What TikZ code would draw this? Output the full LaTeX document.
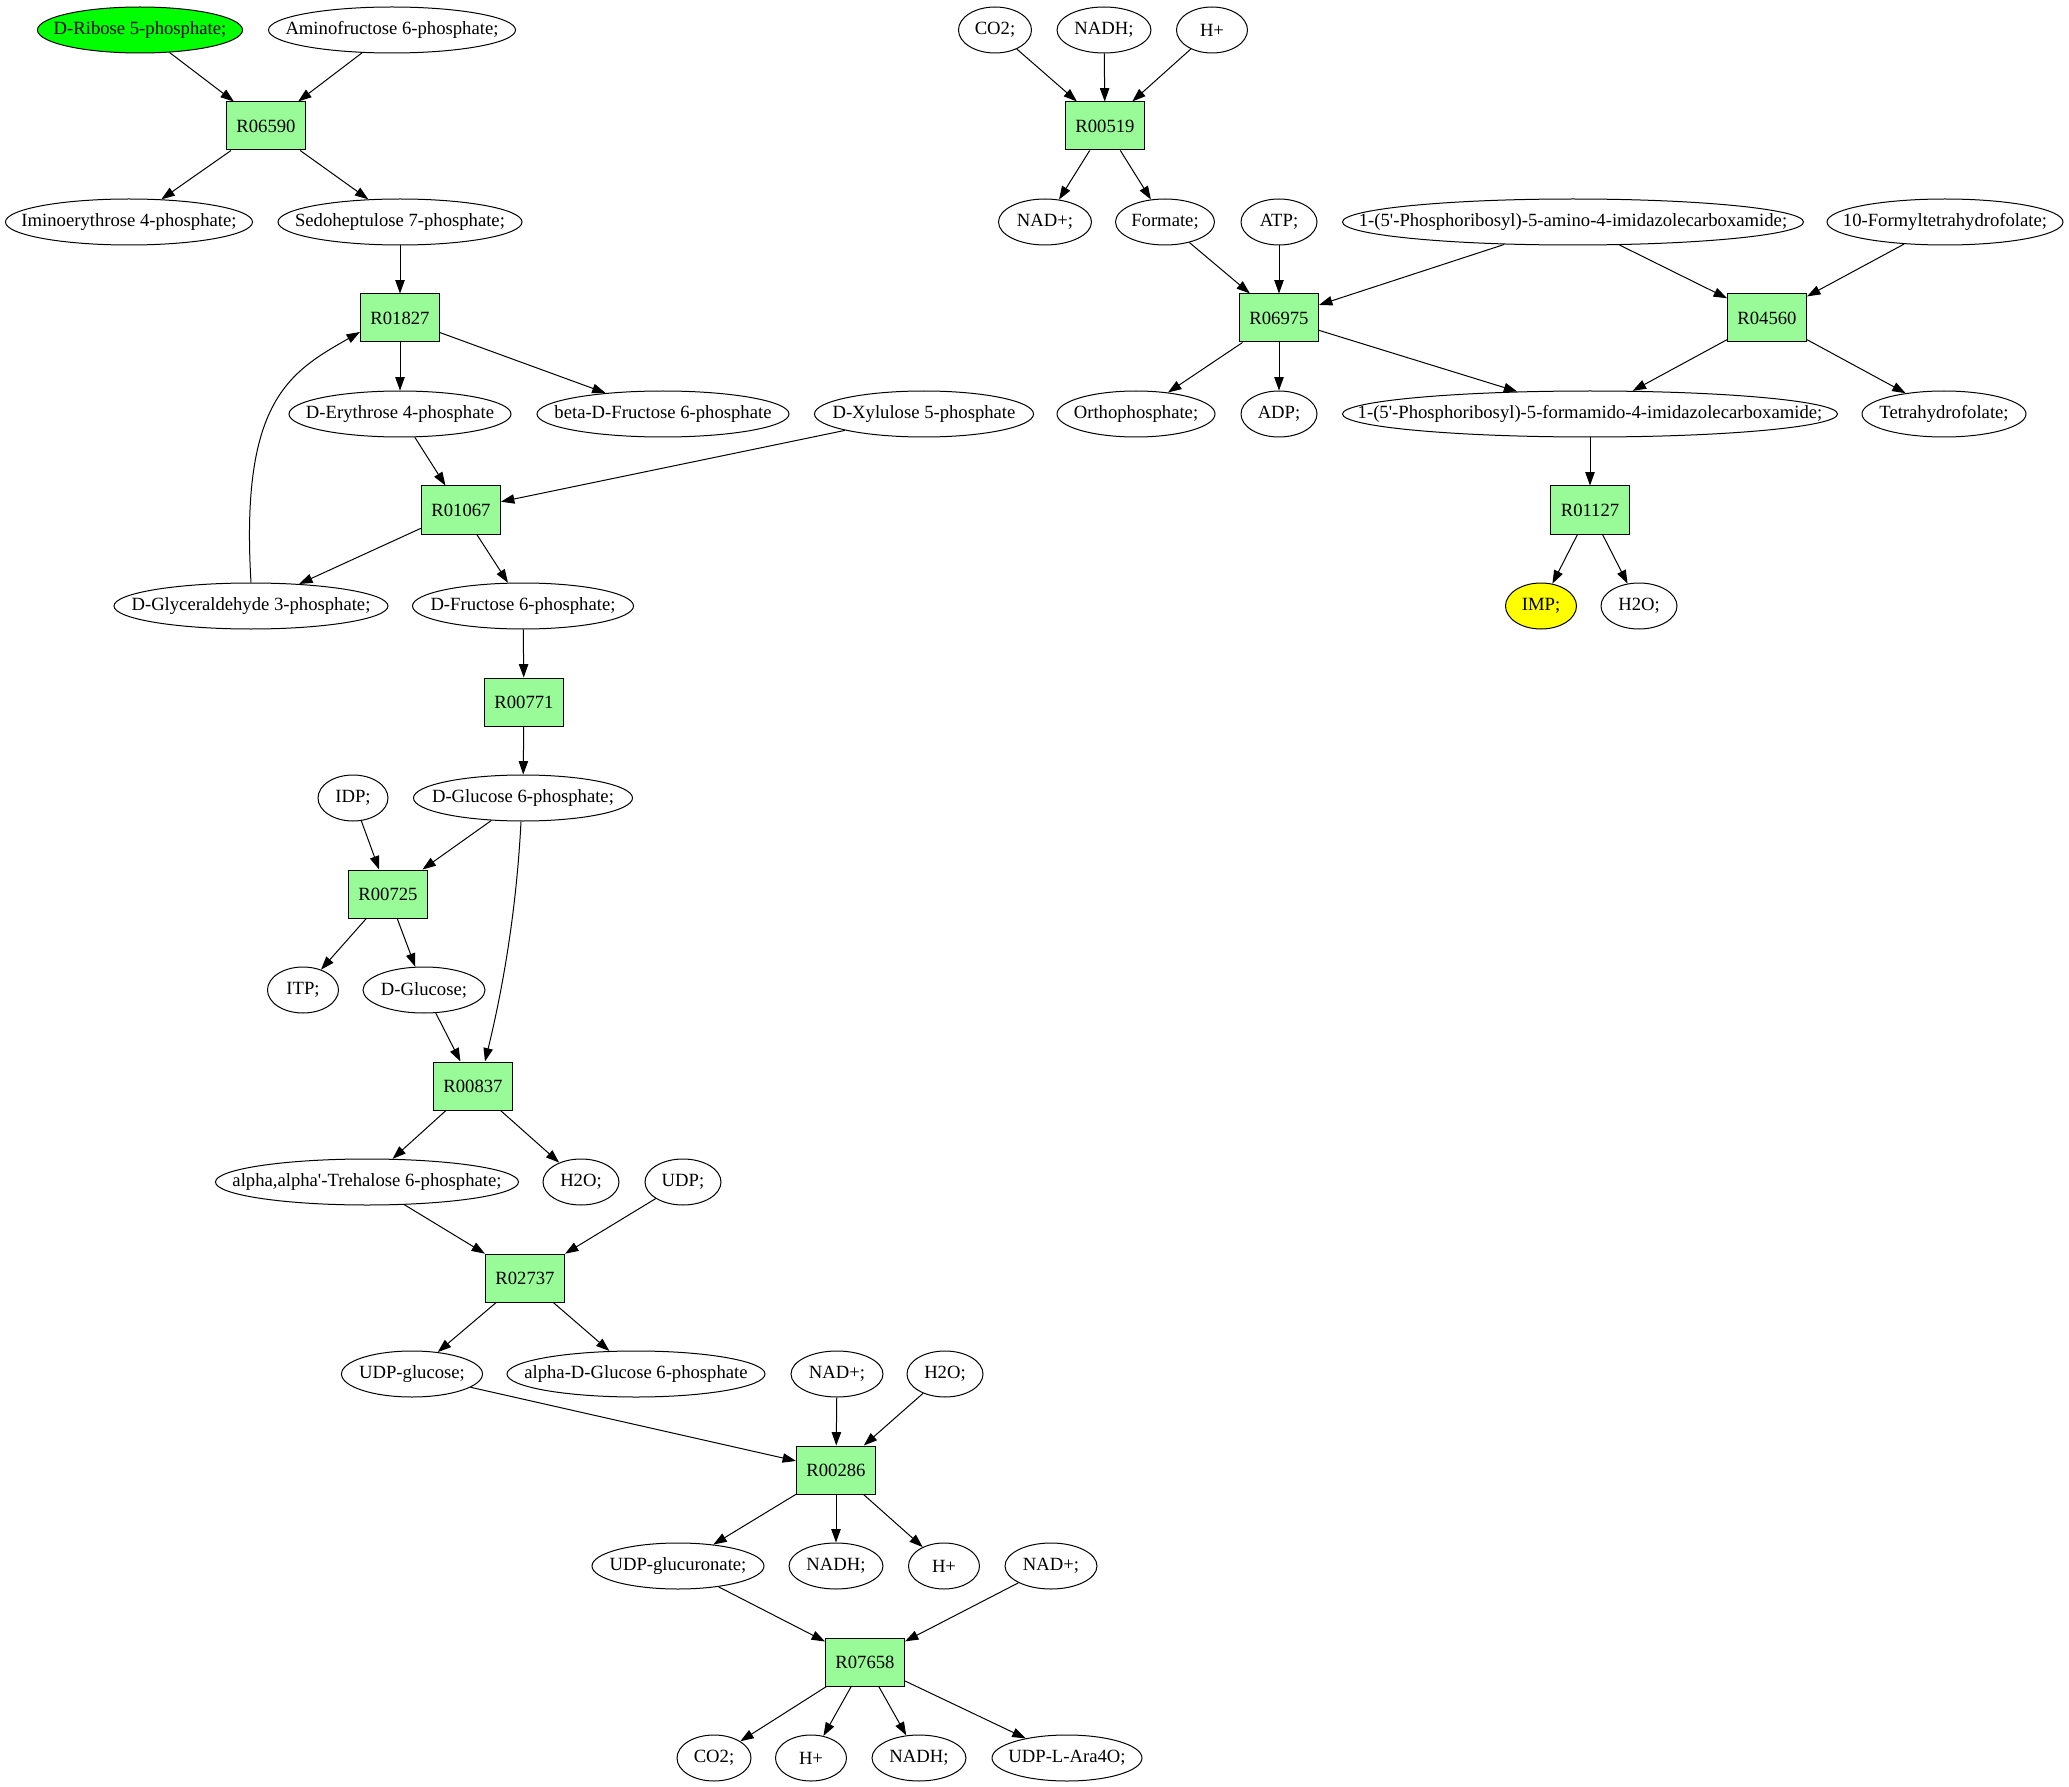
\documentclass[tikz,border=0pt]{standalone}
\usepackage{fontspec}
\setmainfont{Liberation Serif}
\usetikzlibrary{shapes.geometric,arrows.meta}
\definecolor{rxngreen}{HTML}{98FB98}
\definecolor{startgreen}{HTML}{00FF00}
\definecolor{endyellow}{HTML}{FFFF00}
\newcommand\mlab[1]{\makebox[0pt][c]{#1}}
\begin{document}
\begin{tikzpicture}[x=0.5pt,y=-0.5pt,
  met/.style={ellipse, draw, line width=0.5pt, inner sep=0pt, minimum height=23pt, minimum width=#1*0.5pt},
  rxn/.style={rectangle, draw, line width=0.5pt, fill=rxngreen, inner sep=0pt, minimum width=39.5pt, minimum height=24pt},
  edge/.style={line width=0.5pt, -{Triangle[length=6.7pt,width=4.7pt]}},
  every node/.style={font=\fontsize{9.33pt}{11pt}\selectfont}]
\useasboundingbox (0,0) rectangle (2069,1787);
% row 0
\node[met=205, fill=startgreen] (ribose) at (140,30) {\mlab{D-Ribose 5-phosphate;}};
\node[met=247] (aminofru) at (392,30) {\mlab{Aminofructose 6-phosphate;}};
\node[met=73] (co2a) at (995,30) {\mlab{CO2;}};
\node[met=94] (nadha) at (1104,30) {\mlab{NADH;}};
\node[met=71] (hpa) at (1212,30) {\mlab{H+}};
% row 1
\node[rxn] (r06590) at (266,126) {R06590};
\node[rxn] (r00519) at (1105,126) {R00519};
% row 2
\node[met=247] (imino) at (129,222) {\mlab{Iminoerythrose 4-phosphate;}};
\node[met=244] (sedo) at (400,222) {\mlab{Sedoheptulose 7-phosphate;}};
\node[met=93] (nadpa) at (1045,222) {\mlab{NAD+;}};
\node[met=99] (formate) at (1165,222) {\mlab{Formate;}};
\node[met=76] (atp) at (1279,222) {\mlab{ATP;}};
\node[met=461] (aica) at (1573,222) {\mlab{1-(5\textquotesingle-Phosphoribosyl)-5-amino-4-imidazolecarboxamide;}};
\node[met=236] (fthf) at (1945,222) {\mlab{10-Formyltetrahydrofolate;}};
% row 3
\node[rxn] (r01827) at (400,318) {R01827};
\node[rxn] (r06975) at (1279,318) {R06975};
\node[rxn] (r04560) at (1767,318) {R04560};
% row 4
\node[met=222] (ery) at (400,414) {\mlab{D-Erythrose 4-phosphate}};
\node[met=252] (bfru) at (663,414) {\mlab{beta-D-Fructose 6-phosphate}};
\node[met=219] (xyl) at (924,414) {\mlab{D-Xylulose 5-phosphate}};
\node[met=158] (ortho) at (1136,414) {\mlab{Orthophosphate;}};
\node[met=76] (adp) at (1279,414) {\mlab{ADP;}};
\node[met=495] (faica) at (1590,414) {\mlab{1-(5\textquotesingle-Phosphoribosyl)-5-formamido-4-imidazolecarboxamide;}};
\node[met=164] (thf) at (1944,414) {\mlab{Tetrahydrofolate;}};
% row 5
\node[rxn] (r01067) at (461,510) {R01067};
\node[rxn] (r01127) at (1590,510) {R01127};
% row 6
\node[met=274] (gly) at (251,606) {\mlab{D-Glyceraldehyde 3-phosphate;}};
\node[met=221] (f6p) at (523,606) {\mlab{D-Fructose 6-phosphate;}};
\node[met=71, fill=endyellow] (imp) at (1541,606) {\mlab{IMP;}};
\node[met=76] (h2oa) at (1639,606) {\mlab{H2O;}};
% row 7
\node[rxn] (r00771) at (524,702) {R00771};
% row 8
\node[met=70] (idp) at (353,798) {\mlab{IDP;}};
\node[met=219] (g6p) at (523,798) {\mlab{D-Glucose 6-phosphate;}};
% row 9
\node[rxn] (r00725) at (388,894) {R00725};
% row 10
\node[met=71] (itp) at (303,990) {\mlab{ITP;}};
\node[met=122] (glc) at (424,990) {\mlab{D-Glucose;}};
% row 11
\node[rxn] (r00837) at (473,1086) {R00837};
% row 12
\node[met=303] (tre) at (367,1182) {\mlab{alpha,alpha\textquotesingle-Trehalose 6-phosphate;}};
\node[met=76] (h2ob) at (581,1182) {\mlab{H2O;}};
\node[met=76] (udp) at (683,1182) {\mlab{UDP;}};
% row 13
\node[rxn] (r02737) at (525,1278) {R02737};
% row 14
\node[met=141] (udpg) at (412,1374) {\mlab{UDP-glucose;}};
\node[met=258] (ag6p) at (636,1374) {\mlab{alpha-D-Glucose 6-phosphate}};
\node[met=92] (nadpb) at (837,1374) {\mlab{NAD+;}};
\node[met=76] (h2oc) at (945,1374) {\mlab{H2O;}};
% row 15
\node[rxn] (r00286) at (836,1470) {R00286};
% row 16
\node[met=172] (udpgA) at (678,1566) {\mlab{UDP-glucuronate;}};
\node[met=94] (nadhb) at (836,1566) {\mlab{NADH;}};
\node[met=71] (hpb) at (944,1566) {\mlab{H+}};
\node[met=92] (nadpc) at (1051,1566) {\mlab{NAD+;}};
% row 17
\node[rxn] (r07658) at (865,1662) {R07658};
% row 18
\node[met=74] (co2b) at (714,1758) {\mlab{CO2;}};
\node[met=71] (hpc) at (811,1758) {\mlab{H+}};
\node[met=94] (nadhc) at (919,1758) {\mlab{NADH;}};
\node[met=150] (ara) at (1067,1758) {\mlab{UDP-L-Ara4O;}};
% edges left
\draw[edge] (ribose) -- (r06590);
\draw[edge] (aminofru) -- (r06590);
\draw[edge] (r06590) -- (imino);
\draw[edge] (r06590) -- (sedo);
\draw[edge] (sedo) -- (r01827);
\draw[edge] (r01827) -- (ery);
\draw[edge] (r01827) -- (bfru);
\draw[edge] (gly.north) .. controls (240,400) and (290,372) .. ([yshift=-7pt]r01827.west);
\draw[edge] (ery) -- (r01067);
\draw[edge] (xyl) -- (r01067);
\draw[edge] (r01067) -- (gly);
\draw[edge] (r01067) -- (f6p);
\draw[edge] (f6p) -- (r00771);
\draw[edge] (r00771) -- (g6p);
\draw[edge] (idp) -- (r00725);
\draw[edge] (g6p) -- (r00725);
\draw[edge] (r00725) -- (itp);
\draw[edge] (r00725) -- (glc);
\draw[edge] (glc) -- (r00837);
\draw[edge] ([xshift=-1pt]g6p.south) .. controls (516,920) and (500,1000) .. ([xshift=6pt]r00837.north);
\draw[edge] (r00837) -- (tre);
\draw[edge] (r00837) -- (h2ob);
\draw[edge] (tre) -- (r02737);
\draw[edge] (udp) -- (r02737);
\draw[edge] (r02737) -- (udpg);
\draw[edge] (r02737) -- (ag6p);
\draw[edge] (udpg) -- (r00286);
\draw[edge] (nadpb) -- (r00286);
\draw[edge] (h2oc) -- (r00286);
\draw[edge] (r00286) -- (udpgA);
\draw[edge] (r00286) -- (nadhb);
\draw[edge] (r00286) -- (hpb);
\draw[edge] (udpgA) -- (r07658);
\draw[edge] (nadpc) -- (r07658);
\draw[edge] (r07658) -- (co2b);
\draw[edge] (r07658) -- (hpc);
\draw[edge] (r07658) -- (nadhc);
\draw[edge] (r07658) -- (ara);
% edges right
\draw[edge] (co2a) -- (r00519);
\draw[edge] (nadha) -- (r00519);
\draw[edge] (hpa) -- (r00519);
\draw[edge] (r00519) -- (nadpa);
\draw[edge] (r00519) -- (formate);
\draw[edge] (formate) -- (r06975);
\draw[edge] (atp) -- (r06975);
\draw[edge] (aica) -- (r06975);
\draw[edge] (aica) -- (r04560);
\draw[edge] (fthf) -- (r04560);
\draw[edge] (r06975) -- (ortho);
\draw[edge] (r06975) -- (adp);
\draw[edge] (r06975) -- (faica);
\draw[edge] (r04560) -- (faica);
\draw[edge] (r04560) -- (thf);
\draw[edge] (faica) -- (r01127);
\draw[edge] (r01127) -- (imp);
\draw[edge] (r01127) -- (h2oa);
\end{tikzpicture}
\end{document}
